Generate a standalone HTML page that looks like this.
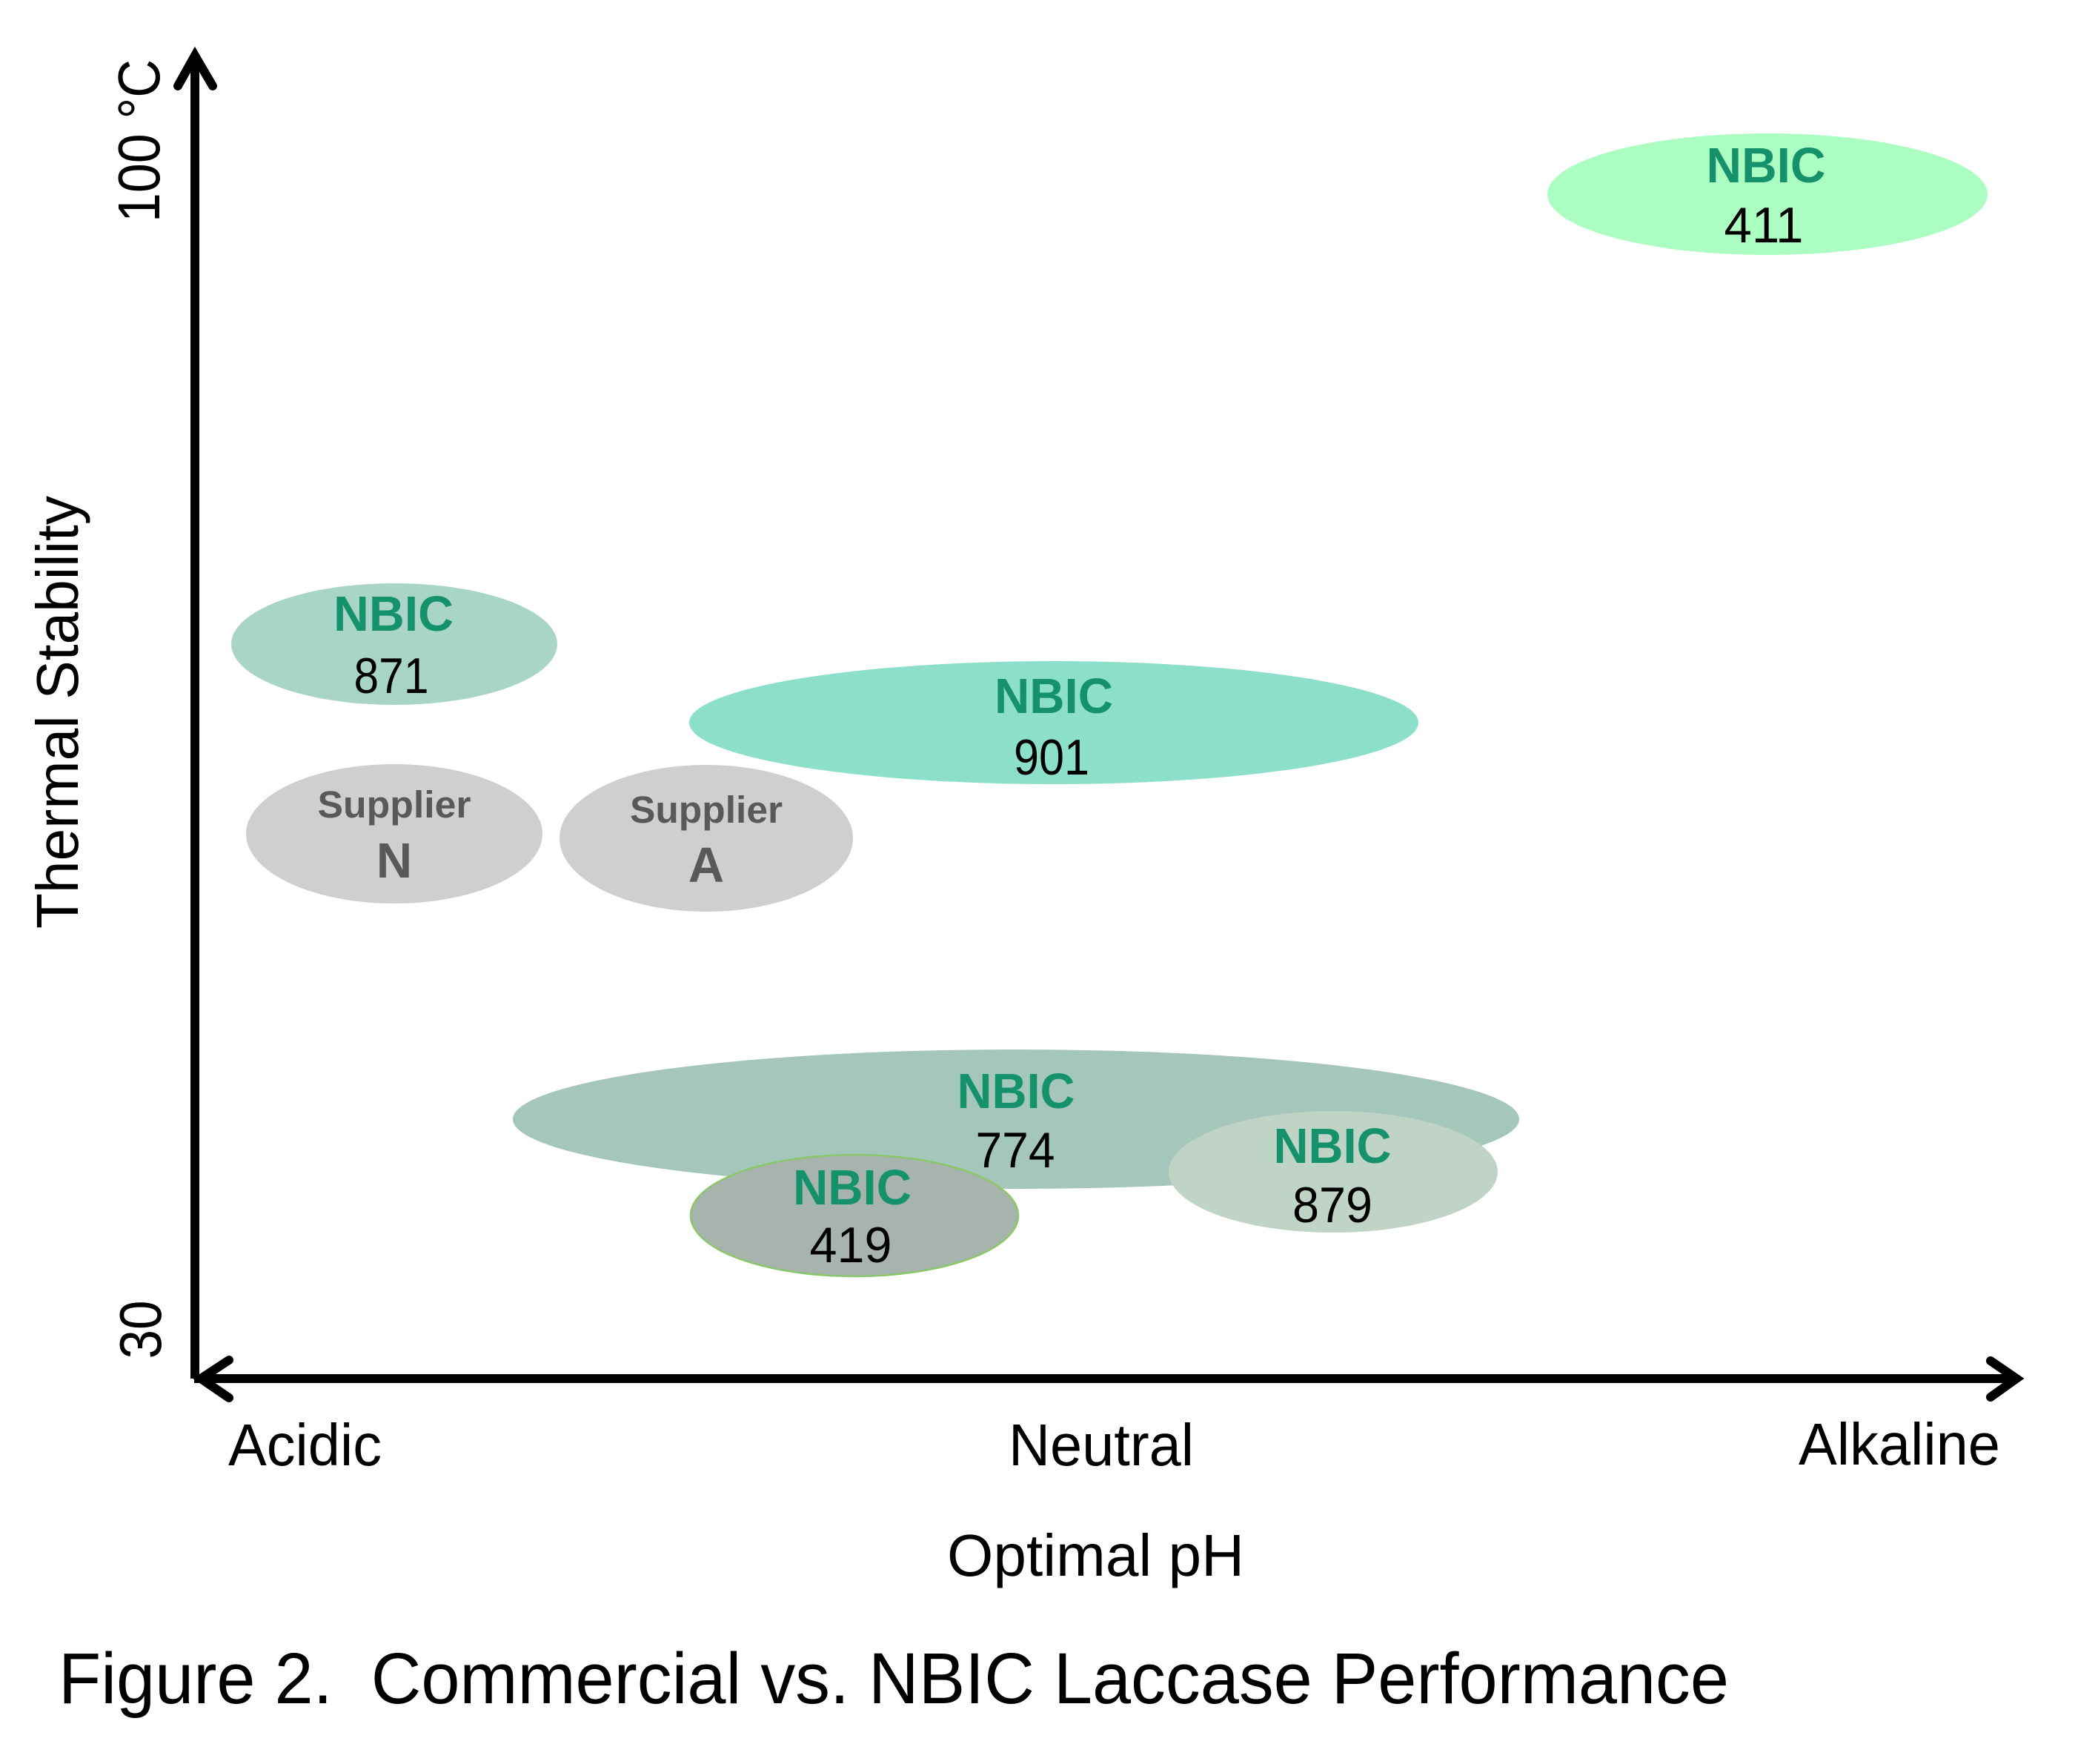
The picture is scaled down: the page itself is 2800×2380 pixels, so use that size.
<!DOCTYPE html>
<html>
<head>
<meta charset="utf-8">
<style>
  html, body { margin: 0; padding: 0; background: #ffffff; }
  svg { display: block; }
  text { font-family: "Liberation Sans", "DejaVu Sans", sans-serif; }
  .nb { font-weight: bold; fill: #15926c; font-size: 67px; }
  .num { fill: #000; font-size: 68px; }
  .sup { font-weight: bold; fill: #595959; font-size: 51px; }
  .supL { font-weight: bold; fill: #595959; font-size: 67px; }
  .ax { fill: #000; font-size: 80px; }
</style>
</head>
<body>
<svg width="2800" height="2380" viewBox="0 0 2800 2380" xmlns="http://www.w3.org/2000/svg">
  <rect x="0" y="0" width="2800" height="2380" fill="#ffffff"/>

  <!-- Ellipses -->
  <ellipse cx="2385" cy="262" rx="297" ry="82" fill="#abfdc1"/>
  <ellipse cx="532" cy="869" rx="220" ry="82" fill="#a8d5c6"/>
  <ellipse cx="1422" cy="975" rx="492" ry="83" fill="#8ce0c9"/>
  <ellipse cx="532" cy="1125" rx="200" ry="94" fill="#d0cecf"/>
  <ellipse cx="953" cy="1131" rx="198" ry="99" fill="#d0cecf"/>
  <ellipse cx="1371" cy="1510" rx="679" ry="94" fill="#a5c6bb"/>
  <ellipse cx="1153" cy="1640" rx="221" ry="82" fill="#a7b4ae" stroke="#8cc66a" stroke-width="2.5"/>
  <ellipse cx="1799" cy="1581" rx="222" ry="82" fill="#c0d3c7"/>

  <!-- Ellipse labels -->
  <text class="nb" x="2383" y="246" text-anchor="middle" textLength="161" lengthAdjust="spacingAndGlyphs">NBIC</text>
  <text class="num" x="2380" y="327" text-anchor="middle" textLength="107" lengthAdjust="spacingAndGlyphs">411</text>

  <text class="nb" x="531" y="851" text-anchor="middle" textLength="162" lengthAdjust="spacingAndGlyphs">NBIC</text>
  <text class="num" x="528" y="935" text-anchor="middle" textLength="101" lengthAdjust="spacingAndGlyphs">871</text>

  <text class="nb" x="1422" y="962" text-anchor="middle" textLength="160" lengthAdjust="spacingAndGlyphs">NBIC</text>
  <text class="num" x="1419" y="1045" text-anchor="middle" textLength="102" lengthAdjust="spacingAndGlyphs">901</text>

  <text class="sup" x="532" y="1103" text-anchor="middle" textLength="207" lengthAdjust="spacingAndGlyphs">Supplier</text>
  <text class="supL" x="532" y="1184" text-anchor="middle">N</text>

  <text class="sup" x="953" y="1110" text-anchor="middle" textLength="206" lengthAdjust="spacingAndGlyphs">Supplier</text>
  <text class="supL" x="953" y="1190" text-anchor="middle">A</text>

  <text class="nb" x="1371" y="1495" text-anchor="middle" textLength="159" lengthAdjust="spacingAndGlyphs">NBIC</text>
  <text class="num" x="1370" y="1575" text-anchor="middle" textLength="107" lengthAdjust="spacingAndGlyphs">774</text>

  <text class="nb" x="1150" y="1625" text-anchor="middle" textLength="160" lengthAdjust="spacingAndGlyphs">NBIC</text>
  <text class="num" x="1148" y="1703" text-anchor="middle" textLength="111" lengthAdjust="spacingAndGlyphs">419</text>

  <text class="nb" x="1798" y="1569" text-anchor="middle" textLength="159" lengthAdjust="spacingAndGlyphs">NBIC</text>
  <text class="num" x="1798" y="1649" text-anchor="middle" textLength="108" lengthAdjust="spacingAndGlyphs">879</text>

  <!-- Axes -->
  <line x1="263" y1="1860" x2="263" y2="80" stroke="#000" stroke-width="12"/>
  <polyline points="240,116 263,75 287,116" fill="none" stroke="#000" stroke-width="12" stroke-linecap="round" stroke-linejoin="miter" stroke-miterlimit="10"/>
  <line x1="262" y1="1860" x2="2718" y2="1860" stroke="#000" stroke-width="12"/>
  <polyline points="2686,1836 2721,1860 2686,1885" fill="none" stroke="#000" stroke-width="12" stroke-linecap="round" stroke-linejoin="miter" stroke-miterlimit="10"/>
  <polyline points="309,1835 271,1860 309,1886" fill="none" stroke="#000" stroke-width="12" stroke-linecap="round" stroke-linejoin="miter" stroke-miterlimit="10"/>

  <!-- Axis labels -->
  <text class="ax" x="215" y="190" text-anchor="middle" transform="rotate(-90 215 190)" textLength="220" lengthAdjust="spacingAndGlyphs">100 °C</text>
  <text class="ax" x="217" y="1794" text-anchor="middle" transform="rotate(-90 217 1794)" textLength="79" lengthAdjust="spacingAndGlyphs">30</text>
  <text class="ax" x="105" y="961" text-anchor="middle" transform="rotate(-90 105 961)" textLength="584" lengthAdjust="spacingAndGlyphs">Thermal Stability</text>

  <text class="ax" x="308" y="1977" textLength="207" lengthAdjust="spacingAndGlyphs">Acidic</text>
  <text class="ax" x="1361" y="1977" textLength="250" lengthAdjust="spacingAndGlyphs">Neutral</text>
  <text class="ax" x="2427" y="1976" textLength="272" lengthAdjust="spacingAndGlyphs">Alkaline</text>
  <text class="ax" x="1278" y="2126" textLength="401" lengthAdjust="spacingAndGlyphs">Optimal pH</text>

  <!-- Caption -->
  <text x="79" y="2298" fill="#000" font-size="97" textLength="2254" lengthAdjust="spacingAndGlyphs">Figure 2.&#160; Commercial vs. NBIC Laccase Performance</text>
</svg>
</body>
</html>
